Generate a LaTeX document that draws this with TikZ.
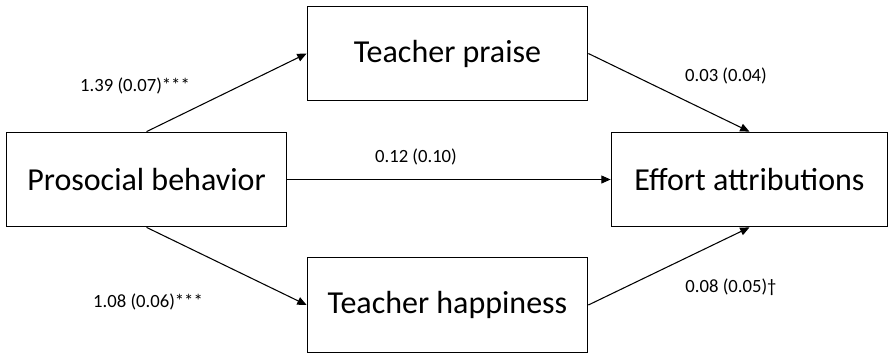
\documentclass[tikz,border=0pt]{standalone}
\usepackage{fontspec}
\setmainfont{Carlito}
\usepackage{tikz}
\usetikzlibrary{arrows.meta}

\begin{document}
\begin{tikzpicture}[x=0.75pt, y=-0.75pt, line width=0.8pt,
    box/.style={draw, minimum width=210.5pt, minimum height=71pt, inner sep=0pt, font=\fontsize{24}{28}\selectfont},
    coef/.style={draw=none, font=\fontsize{14}{17}\selectfont},
    path/.style={-{Triangle[length=7pt, width=6pt]}}]
             \useasboundingbox (0, 0) rectangle (889, 354);

             \node[box] (prosocial) at (146.5, 179.5) {Prosocial behavior};
             \node[box] (praise) at (447.5, 53.5) {Teacher praise};
             \node[box] (happiness) at (447.5, 305) {Teacher happiness};
             \node[box, minimum width=207.5pt] (effort) at (749.5, 179.5) {Effort attributions};

             \draw[path] (prosocial.north) -- (praise.west);
             \draw[path] (prosocial.south) -- (happiness.west);
             \draw[path] (prosocial.east) -- (effort.west);
             \draw[path] (praise.east) -- (effort.north);
             \draw[path] (happiness.east) -- (effort.south);

             \node[coef] (a1) at (135, 86) {1.39 (0.07)***};
             \node[coef] (a2) at (148, 302) {1.08 (0.06)***};
             \node[coef] (c) at (416, 157) {0.12 (0.10)};
             \node[coef] (b1) at (726, 76) {0.03 (0.04)};
             \node[coef] (b2) at (731, 287) {0.08 (0.05)†};
             \end{tikzpicture}
\end{document}
